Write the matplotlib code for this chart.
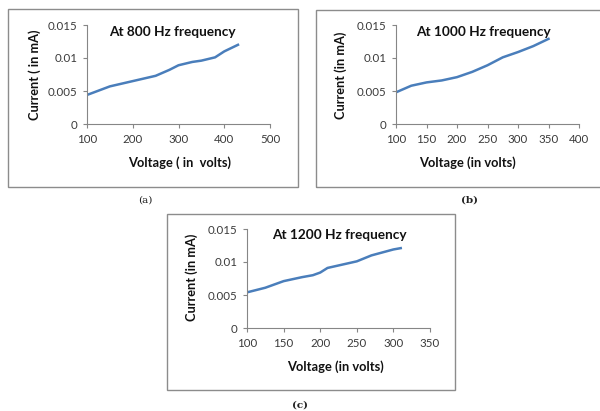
import matplotlib
matplotlib.use("Agg")
import matplotlib.pyplot as plt
from matplotlib.patches import Rectangle

# Data
v_800 = [100, 150, 200, 250, 280, 300, 330, 350, 380, 400, 430]
i_800 = [0.0044, 0.0057, 0.0065, 0.0073, 0.0082, 0.0089, 0.0094, 0.0096, 0.0101, 0.0110, 0.0120]

v_1000 = [100, 125, 150, 175, 200, 225, 250, 275, 300, 325, 350]
i_1000 = [0.0048, 0.0058, 0.0063, 0.0066, 0.0071, 0.0079, 0.0089, 0.0101, 0.0109, 0.0118, 0.0129]

v_1200 = [100, 125, 150, 175, 190, 200, 210, 250, 270, 300, 310]
i_1200 = [0.0054, 0.0061, 0.0071, 0.0077, 0.0080, 0.0084, 0.0091, 0.0101, 0.0110, 0.0119, 0.0121]

yticks = [0, 0.005, 0.01, 0.015]
ytick_labels = ["0", "0.005", "0.01", "0.015"]
xticks_a = [100, 200, 300, 400, 500]
xticks_b = [100, 150, 200, 250, 300, 350, 400]
xticks_c = [100, 150, 200, 250, 300, 350]

titles = ["At 800 Hz frequency", "At 1000 Hz frequency", "At 1200 Hz frequency"]
ylabels = ["Current ( in mA)", "Current (in mA)", "Current (in mA)"]
xlabels = ["Voltage ( in  volts)", "Voltage (in volts)", "Voltage (in volts)"]
panel_labels = ["(a)", "(b)", "(c)"]

W, H = 600, 411
fig = plt.figure(figsize=(6, 4.11), dpi=100)
fig.patch.set_facecolor("white")

FONT = "Lato"
LINE = "#4a7ebb"
SPINE = "#868686"

def px_axes(l, r, t, b):
    return fig.add_axes([l / W, 1 - b / H, (r - l) / W, (b - t) / H])

def ftext(x, y, s, **kw):
    fig.text(x / W, 1 - y / H, s, **kw)

def box(l, r, t, b):
    fig.patches.append(Rectangle((l / W, 1 - b / H), (r - l) / W, (b - t) / H,
                                 transform=fig.transFigure, fill=False,
                                 edgecolor="#8c8c8c", linewidth=1.0))

panels = [
    dict(v=v_800, i=i_800, xt=xticks_a, ax=(87, 270, 25, 124), box=(8, 298, 9, 187),
         title=(172, 32), ylab=(35, 75), xlab=(180, 163), plab=(145, 200)),
    dict(v=v_1000, i=i_1000, xt=xticks_b, ax=(396, 579, 25, 124), box=(316, 604, 10, 187),
         title=(483, 32), ylab=(341, 75), xlab=(467, 163), plab=(470, 200)),
    dict(v=v_1200, i=i_1200, xt=xticks_c, ax=(247, 430, 229, 328), box=(167, 455, 214, 390),
         title=(339, 235), ylab=(192, 277), xlab=(335, 367), plab=(300, 405)),
]

for k, p in enumerate(panels):
    box(*p["box"])
    ax = px_axes(*p["ax"])
    ax.plot(p["v"], p["i"], color=LINE, linewidth=1.8)
    ax.set_xlim(p["xt"][0], p["xt"][-1])
    ax.set_ylim(0, 0.015)
    ax.set_xticks(p["xt"])
    ax.set_xticklabels([str(t) for t in p["xt"]], fontname=FONT, fontsize=8.3, color="#3a3a3a")
    ax.set_yticks(yticks)
    ax.set_yticklabels(ytick_labels, fontname=FONT, fontsize=8.3, color="#3a3a3a")
    for s in ["top", "right"]:
        ax.spines[s].set_visible(False)
    for s in ["left", "bottom"]:
        ax.spines[s].set_color(SPINE)
        ax.spines[s].set_linewidth(0.8)
    ax.tick_params(direction="out", length=3, width=0.8, color=SPINE, pad=4)
    ax.patch.set_alpha(0)
    ftext(*p["title"], titles[k], ha="center", va="center", fontname=FONT,
          fontweight="bold", fontsize=9.8, color="#111111")
    ftext(*p["ylab"], ylabels[k], ha="center", va="center", rotation=90,
          fontname=FONT, fontweight="bold", fontsize=9.2, color="#111111")
    ftext(*p["xlab"], xlabels[k], ha="center", va="center", fontname=FONT,
          fontweight="bold", fontsize=9.3, color="#111111")
    ftext(*p["plab"], panel_labels[k], ha="center", va="center", family="DejaVu Serif",
          fontsize=7.5, fontweight="bold" if k > 0 else "normal", color="#222222")

fig.savefig("out.png", dpi=100, facecolor="white")
